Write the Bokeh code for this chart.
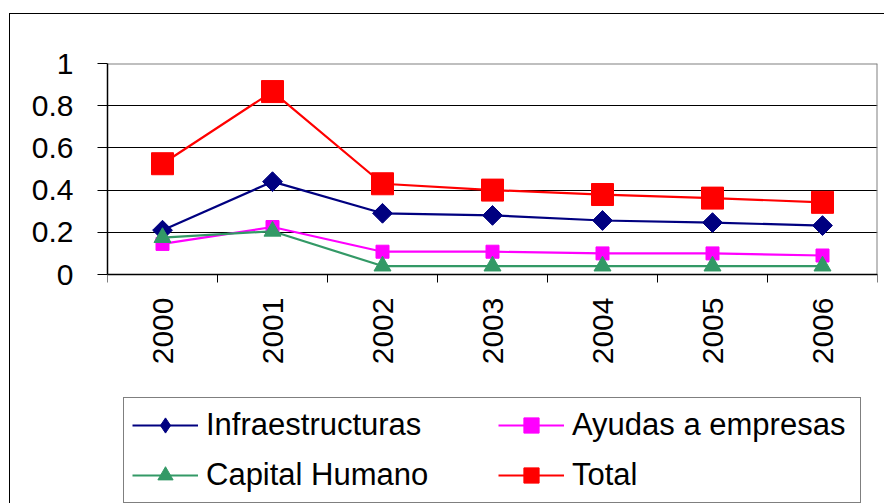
from bokeh.plotting import figure
from bokeh.models import (Range1d, FixedTicker, NumeralTickFormatter, Legend, LegendItem)
from bokeh.embed import file_html
from bokeh.resources import INLINE
import math

years = ["2000", "2001", "2002", "2003", "2004", "2005", "2006"]
infraestructuras = [0.21, 0.44, 0.29, 0.28, 0.256, 0.246, 0.232]
ayudas = [0.145, 0.225, 0.108, 0.108, 0.10, 0.10, 0.09]
capital = [0.175, 0.205, 0.04, 0.04, 0.04, 0.04, 0.04]
total = [0.525, 0.867, 0.43, 0.40, 0.379, 0.362, 0.342]
y_ticks = [0, 0.2, 0.4, 0.6, 0.8, 1]

xs = list(range(1, len(years) + 1))
FONT = "Liberation Sans"
x_lo, x_hi = 0.5, len(years) + 0.5
# frame extends below the 0 line to hold the legend (211 px per unit, 230 px below 0)
y_lo, y_hi = -230 / 211, 1

p = figure(width=875, height=490, output_backend="svg", toolbar_location=None,
           x_range=Range1d(x_lo, x_hi), y_range=Range1d(y_lo, y_hi),
           min_border_left=97, min_border_top=49, min_border_right=8, min_border_bottom=0,
           styles={"margin-top": "13px", "margin-left": "9px",
                   "border-left": "1px solid #000000", "border-top": "1px solid #000000"})
p.background_fill_color = "white"
p.border_fill_color = "white"
p.outline_line_color = None

# grid
p.xgrid.grid_line_color = None
p.ygrid.grid_line_color = "#000000"
p.ygrid.grid_line_width = 1

# plot-area border (gray, top and right)
p.segment(x0=[x_lo], y0=[y_ticks[-1]], x1=[x_hi], y1=[y_ticks[-1]], line_color="#808080", line_width=2)
p.segment(x0=[x_hi], y0=[y_ticks[0]], x1=[x_hi], y1=[y_ticks[-1]], line_color="#808080", line_width=2)

# y axis
p.yaxis.ticker = FixedTicker(ticks=y_ticks)
p.yaxis.bounds = (y_ticks[0], y_ticks[-1])
p.yaxis.formatter = NumeralTickFormatter(format="0.[0]")
p.yaxis.major_label_text_font = FONT
p.yaxis.major_label_text_font_size = "30px"
p.yaxis.major_label_text_color = "black"
p.yaxis.major_tick_out = 10
p.yaxis.major_tick_in = 0
p.yaxis.minor_tick_line_color = None
p.yaxis.major_label_standoff = 24
p.yaxis.axis_line_color = "black"
p.yaxis.axis_line_width = 1.5

# x axis at y = 0: labels at centres, ticks at category boundaries
p.xaxis.fixed_location = 0
p.xaxis.ticker = FixedTicker(ticks=xs, minor_ticks=[x - 0.5 for x in xs] + [len(xs) + 0.5])
p.xaxis.major_label_overrides = {x: y for x, y in zip(xs, years)}
p.xaxis.major_tick_line_color = None
p.xaxis.major_tick_out = 0
p.xaxis.major_tick_in = 0
p.xaxis.minor_tick_line_color = "black"
p.xaxis.minor_tick_out = 8
p.xaxis.minor_tick_in = 0
p.xaxis.major_label_orientation = math.pi / 2
p.xaxis.major_label_text_font = FONT
p.xaxis.major_label_text_font_size = "30px"
p.xaxis.major_label_text_color = "black"
p.xaxis.major_label_standoff = 15
p.xaxis.axis_line_color = "black"
p.xaxis.axis_line_width = 1.5

series = [
    ("Infraestructuras", infraestructuras, "#000080", "square", 14, math.pi / 4, "diamond"),
    ("Ayudas a empresas", ayudas, "#FF00FF", "square", 13, 0, None),
    ("Capital Humano", capital, "#339966", "triangle", 17, 0, None),
    ("Total", total, "#FF0000", "square", 22, 0, None),
]

items = {}
for name, vals, col, marker, size, ang, leg_marker in series:
    l = p.line(xs, vals, line_color=col, line_width=2.2)
    s = p.scatter(xs, vals, marker=marker, size=size, angle=ang,
                  fill_color=col, line_color=col)
    if leg_marker is not None:
        # legend-only marker (legend does not rotate markers)
        s_leg = p.scatter(xs, vals, marker=leg_marker, size=size,
                          fill_color=col, line_color=col, visible=False)
        items[name] = LegendItem(label=name, renderers=[l, s_leg])
    else:
        items[name] = LegendItem(label=name, renderers=[l, s])

legend = Legend(items=[items["Infraestructuras"], items["Capital Humano"],
                       items["Ayudas a empresas"], items["Total"]],
                location=(16, 1), ncols=2)
legend.label_text_font = FONT
legend.label_text_font_size = "31px"
legend.label_text_color = "black"
legend.glyph_width = 66
legend.glyph_height = 38
legend.label_height = 38
legend.label_width = 280
legend.label_standoff = 8
legend.spacing = 12
legend.padding = 8
legend.margin = 0
legend.border_line_color = "black"
legend.border_line_width = 1
legend.background_fill_color = "white"
legend.background_fill_alpha = 1
p.add_layout(legend, "center")

open("out.html", "w").write(file_html(p, INLINE))
